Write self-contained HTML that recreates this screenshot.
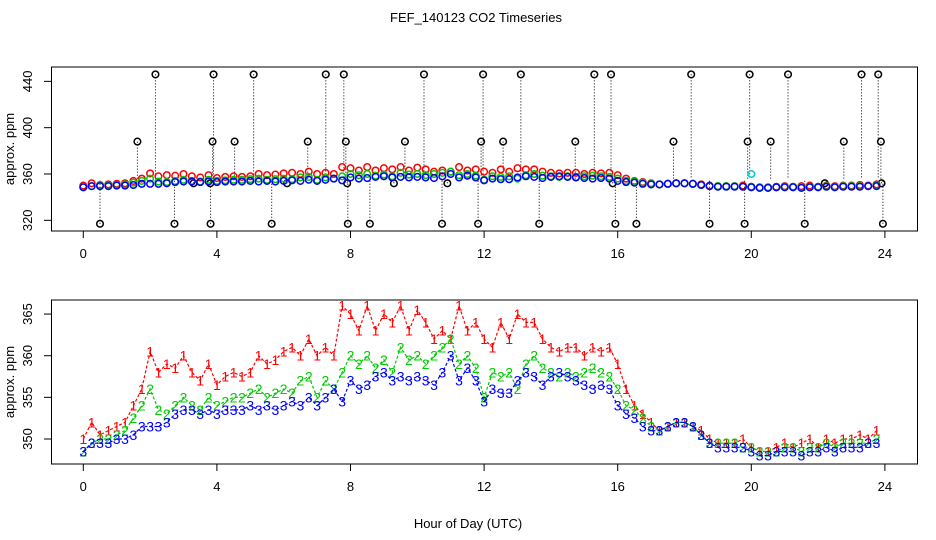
<!DOCTYPE html>
<html><head><meta charset="utf-8"><style>
body{margin:0;background:#fff}
svg{display:block;font-family:"Liberation Sans",sans-serif}
</style></head><body>
<svg id="c" width="936" height="540" viewBox="0 0 936 540"></svg>
<script>
const hours=[];for(let i=0;i<96;i++)hours.push(i/4);
const series1=[350,352,350.5,351, 351.5,352,354,356, 360.5,358,359,358.5, 360,358,357,359, 356.5,357.5,358,357.5, 358,360,359,359.5, 360.5,361,360,362, 360,361,360,366, 365,363,366,363, 365,364,366,363, 365.5,364,362,363, 362,366,363,364, 362,361,364,362, 365,364,364,362, 361,360.5,361,361, 360,361,360.5,361, 359,356,354,353, 352,351,351.5,352, 352,351.5,351,350, 349.5,349.5,349.5,350, 349,348.5,348.5,349, 349.5,349,349.5,350, 349,350,349.5,350, 350,350.5,350,351];
const series2=[348.5,349.5,350,350, 350.5,351,352.5,354, 356,353.5,353,354, 355,354,353.5,355, 354,354.5,355,355, 355.5,356,355,355.5, 356,355.5,357,357.5, 355,357,356,358, 360,359,360,358.5, 359.5,358,361,359.5, 360,359,360,361, 362,359,360,358.5, 355,358,357.5,358, 356,359,360,358.5, 358,357.5,358,357.5, 358,358.5,358,357.5, 356,354,353.5,352.5, 351.5,351,351.5,352, 352,351.5,350.5,349.5, 349.5,349.5,349.5,349, 349,348.5,348.5,348.5, 349,349,348.5,349, 349,349.5,349,349.5, 349.5,349.5,349.5,350];
const series3=[348.5,349.5,349.5,349.5, 350,350,350.5,351.5, 351.5,351.5,352,353, 353.5,353.5,353,353.5, 353,353.5,353.5,353.5, 354,353.5,354,353.5, 354,354.5,354,355, 354,355,356,354.5, 357,356,356.5,357.5, 358,357,357.5,357, 357.5,357,356.5,358, 360,357,358.5,357, 354.5,356,355.5,355.5, 357,358,357.5,356.5, 357.5,358,357.5,357, 356.5,356,356.5,356, 354,353,352.5,351.5, 351,351,351.5,352, 352,351.5,350.5,349.5, 349,349,349,349, 348.5,348,348,348.5, 348.5,348.5,348,348.5, 348.5,349,348.5,349, 349,349,349.5,349.5];
const outlierHours=[2.16,3.9,5.1,7.26,7.8,10.2,11.97,13.1,15.3,15.8,18.2,19.95,21.1,23.3,23.8, 1.62,3.87,4.53,6.72,7.86,9.63,11.91,12.57,14.73,17.67,19.89,20.58,22.77,23.88, 0.5,2.73,3.81,5.64,7.92,8.58,10.74,11.82,13.65,15.93,16.56,18.75,19.8,21.6,23.94, 3.3,3.8,6.1,7.9,9.3,10.9,15.85,22.2,23.9];
const outlierValues=[446,446,446,446,446,446,446,446,446,446,446,446,446,446,446, 388,388,388,388,388,388,388,388,388,388,388,388,388,388, 317,317,317,317,317,317,317,317,317,317,317,317,317,317,317, 352,352,352,352,352,352,352,352,352];
const topTicks=[320,360,400,440];
const botTicks=[350,355,360,365];
const xTicks=[0,4,8,12,16,20,24];

const NS="http://www.w3.org/2000/svg",svg=document.getElementById('c');
function el(t,a,p){const e=document.createElementNS(NS,t);for(const k in a)e.setAttribute(k,a[k]);(p||svg).appendChild(e);return e;}
const X=h=>83.3+h*33.4;
const Yt=v=>174-(v-360)*1.158;
const Yb=v=>439-(v-350)*8.33;

const t=el('text',{x:476,y:22,'text-anchor':'middle','font-size':13});t.textContent='FEF_140123  CO2 Timeseries';



function panel(top,bot,Y,ticks,name){
  const g=el('g',{});
  
  
  const r=el('rect',{x:51.5,y:top,width:866,height:bot-top,fill:'none',stroke:'#000'},g);
  
  
  const ya=el('g',{},g);
  
  
  el('line',{x1:51.5,x2:51.5,y1:Y(ticks[0]),y2:Y(ticks[ticks.length-1]),stroke:'#000'},ya);
  ticks.forEach(v=>{
    el('line',{x1:44,x2:51.5,y1:Y(v),y2:Y(v),stroke:'#000'},ya);
    const tx=el('text',{x:0,y:0,'text-anchor':'middle','font-size':13,transform:`translate(32,${Y(v)}) rotate(-90)`},ya);
    tx.textContent=v;
    
    
  });
  const yl=el('text',{x:0,y:0,'text-anchor':'middle','font-size':13,transform:`translate(14,${(top+bot)/2}) rotate(-90)`},g);
  yl.textContent='approx. ppm';
  
  
  const xa=el('g',{},g);
  
  
  el('line',{x1:X(0),x2:X(24),y1:bot,y2:bot,stroke:'#000'},xa);
  xTicks.forEach(h=>{
    el('line',{x1:X(h),x2:X(h),y1:bot,y2:bot+7,stroke:'#000'},xa);
    const tx=el('text',{x:X(h),y:bot+27,'text-anchor':'middle','font-size':13},xa);
    tx.textContent=h;
    
    
  });
  return g;
}
const gt=panel(67,231,Yt,topTicks,'top-panel');
const gb=panel(300,464,Yb,botTicks,'bottom-panel');

const og=el('g',{},gt);


outlierHours.forEach((h,i)=>{
  el('line',{x1:X(h),x2:X(h),y1:Yt(outlierValues[i]),y2:Yt(356),stroke:'#000','stroke-dasharray':'1,2'},og);
  el('circle',{cx:X(h),cy:Yt(outlierValues[i]),r:3.3,fill:'none',stroke:'#000','stroke-width':1.5},og);
});
const cols=['#f00','#0c0','#00f'],sers=[series1,series2,series3];
sers.forEach((s,k)=>{
  const g=el('g',{},gt);
  
  
  s.forEach((v,i)=>el('circle',{cx:X(hours[i]),cy:Yt(v),r:3.3,fill:'none',stroke:cols[k],'stroke-width':1.5},g));
});
el('circle',{cx:X(20),cy:Yt(360),r:3.3,fill:'none',stroke:'#0cc','stroke-width':1.5},gt);

sers.forEach((s,k)=>{
  const g=el('g',{},gb);
  
  
  el('polyline',{points:s.map((v,i)=>X(hours[i])+','+Yb(v)).join(' '),fill:'none',stroke:cols[k],'stroke-width':1.2,'stroke-dasharray':'3,2'},g);
  s.forEach((v,i)=>{const tx=el('text',{x:X(hours[i]),y:Yb(v)+5,'text-anchor':'middle','font-size':14,fill:cols[k]},g);tx.textContent=String(k+1);});
});

const xl=el('text',{x:468,y:528,'text-anchor':'middle','font-size':13});xl.textContent='Hour of Day (UTC)';


</script>
</body></html>
